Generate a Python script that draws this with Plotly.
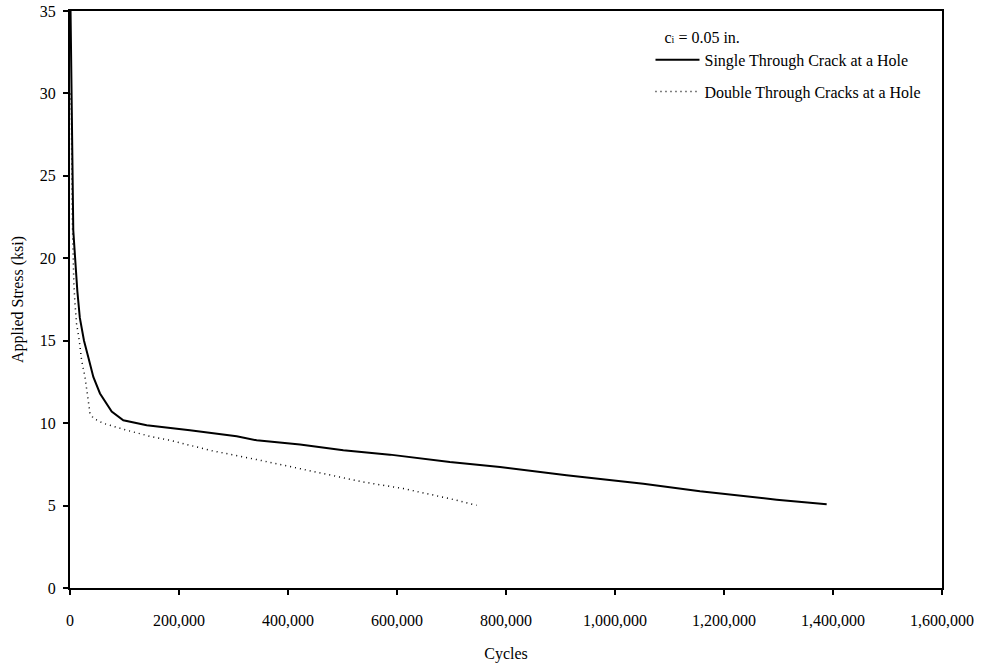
import plotly.graph_objects as go

# Crack growth life vs. applied stress, initial crack size 0.05 in.
single_cycles = [1000, 3000, 4000, 5000, 6000, 9000, 12000, 13500, 18000, 25700,
                 33600, 42800, 55000, 76500, 97800, 140700, 220000, 305800, 342500,
                 422000, 501500, 587000, 697000, 789000, 911000, 1052000, 1156000,
                 1296700, 1388400]
single_stress = [35.0, 30.0, 25.0, 23.0, 21.7, 20.2, 18.5, 18.0, 16.4, 15.0,
                 14.0, 12.8, 11.8, 10.7, 10.17, 9.87, 9.57, 9.2, 8.96,
                 8.70, 8.35, 8.09, 7.64, 7.34, 6.84, 6.33, 5.87,
                 5.36, 5.08]

double_cycles = [1000, 2500, 4000, 5500, 7000, 9000, 12000, 17000, 21400, 27500,
                 30600, 33600, 36700, 42800, 61000, 104000, 146800, 183500,
                 256900, 348600, 434000, 538000, 611600, 697000, 746000]
double_stress = [30.0, 28.8, 22.7, 19.7, 18.5, 17.3, 16.05, 15.0, 13.8, 12.8,
                 12.0, 11.2, 10.6, 10.3, 9.99, 9.57, 9.20, 8.96,
                 8.35, 7.75, 7.14, 6.43, 6.03, 5.42, 5.02]

x_ticks = [0, 200000, 400000, 600000, 800000, 1000000, 1200000, 1400000, 1600000]
y_ticks = [0, 5, 10, 15, 20, 25, 30, 35]

FONT = "Liberation Serif"
FS = 16

fig = go.Figure()
fig.add_trace(go.Scatter(
    x=single_cycles, y=single_stress, mode="lines",
    name="Single Through Crack at a Hole",
    line=dict(color="black", width=2),
    legendgroup="a",
))
fig.add_trace(go.Scatter(
    x=double_cycles, y=double_stress, mode="lines",
    name="Double Through Cracks at a Hole",
    line=dict(color="black", width=1.5, dash="1px,4px"),
    legendgroup="b",
))

axis_common = dict(
    showgrid=False, zeroline=False, automargin=False,
    showline=True, linecolor="black", linewidth=2, mirror=True,
    ticks="outside", ticklen=5, tickwidth=2, tickcolor="black",
    tickfont=dict(family=FONT, size=FS, color="black"),
)

fig.update_xaxes(
    range=[0, 1600000], tickvals=x_ticks,
    ticktext=[f"{v:,}" for v in x_ticks],
    ticklabelstandoff=12,
    title=dict(text="Cycles", font=dict(family=FONT, size=FS, color="black"), standoff=20),
    **axis_common,
)
fig.update_yaxes(
    range=[0, 35], tickvals=y_ticks,
    ticklabelstandoff=4,
    title=dict(text="Applied Stress (ksi)", font=dict(family=FONT, size=FS, color="black"), standoff=12),
    **axis_common,
)

fig.update_layout(
    width=982, height=666,
    margin=dict(l=70, r=40, t=11, b=78),
    paper_bgcolor="white", plot_bgcolor="white",
    font=dict(family=FONT, size=FS, color="black"),
    legend=dict(
        x=0.6657, y=0.981, xanchor="left", yanchor="top",
        bgcolor="rgba(0,0,0,0)", borderwidth=0,
        traceorder="grouped", tracegroupgap=8,
        itemwidth=44,
        title=dict(text='&nbsp;&nbsp;&nbsp;c<span style="font-size:10px">i</span> = 0.05 in.',
                   side="top", font=dict(family=FONT, size=FS, color="black")),
        font=dict(family=FONT, size=FS, color="black"),
    ),
)

fig.write_html("out.html")
